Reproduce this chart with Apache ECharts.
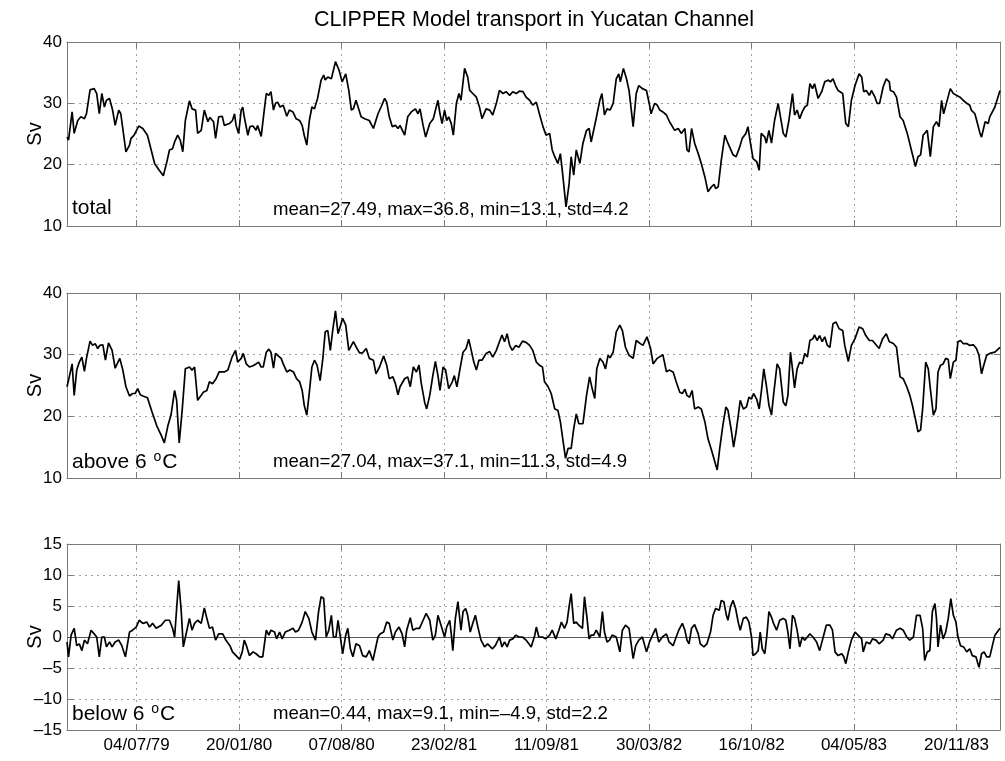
<!DOCTYPE html>
<html>
<head>
<meta charset="utf-8">
<script src="https://cdn.jsdelivr.net/npm/echarts@6/dist/echarts.min.js"></script>
<style>
html, body { margin: 0; padding: 0; background: #fff; }
#chart { width: 1005px; height: 761px; }
</style>
</head>
<body>
<div id="chart"></div>
<script>
// Time axis is counted in days from 04/07/79; ticks every 200 days.
const tickDays = [0, 200, 400, 600, 800, 1000, 1200, 1400, 1600];
const tickLabels = ['04/07/79', '20/01/80', '07/08/80', '23/02/81', '11/09/81',
                    '30/03/82', '16/10/82', '04/05/83', '20/11/83'];
const dayRange = [-136, 1685];

// Transport (Sv): [day, value]
const totalSv = [[-136,24.5],[-133,24.0],[-126,28.6],[-122,25.1],[-115,27.2],[-109,27.8],[-102,27.5],[-98,28.3],[-91,32.2],[-83,32.4],[-78,31.6],[-73,28.3],[-68,31.6],[-63,29.4],[-59,30.5],[-53,30.8],[-47,28.9],[-42,26.4],[-35,28.9],[-31,28.3],[-21,22.1],[-14,23.2],[-11,24.3],[-5,24.8],[4,26.3],[12,25.9],[21,24.8],[35,20.2],[44,19.1],[52,18.2],[59,20.5],[64,22.4],[70,22.6],[74,23.7],[80,24.8],[85,24.0],[90,22.1],[95,27.2],[103,30.4],[108,29.1],[115,28.9],[119,25.1],[126,25.6],[132,28.9],[139,27.0],[143,27.7],[150,27.0],[154,24.3],[160,27.8],[167,27.9],[171,26.4],[181,26.7],[187,27.2],[191,28.3],[194,26.4],[199,25.1],[204,28.9],[207,29.4],[210,27.8],[217,24.8],[221,26.2],[227,26.3],[233,25.6],[236,26.4],[243,24.6],[249,28.9],[253,31.6],[258,31.3],[262,31.9],[267,28.9],[271,30.0],[275,30.2],[280,29.4],[286,29.7],[293,27.9],[298,28.9],[305,28.6],[311,27.5],[318,27.2],[323,26.4],[327,24.8],[332,23.2],[337,27.2],[342,29.4],[347,29.1],[353,30.8],[360,33.8],[365,34.6],[368,33.8],[373,34.3],[380,34.0],[388,36.8],[395,35.4],[401,33.5],[408,34.8],[414,32.1],[419,28.9],[423,29.1],[428,30.5],[434,28.9],[438,27.8],[445,27.5],[454,27.2],[462,25.9],[471,28.3],[477,29.4],[484,30.8],[488,30.2],[493,27.8],[499,26.2],[505,26.4],[510,25.9],[514,26.4],[523,24.8],[529,27.8],[536,28.6],[544,29.1],[549,28.3],[553,29.1],[559,26.4],[564,24.5],[572,26.7],[579,27.5],[588,30.5],[592,28.3],[596,26.7],[601,28.9],[605,27.2],[609,27.8],[614,26.7],[618,24.8],[624,30.0],[629,31.6],[633,30.5],[640,35.7],[646,34.3],[650,32.1],[656,31.6],[663,31.0],[669,29.4],[674,27.5],[682,29.1],[689,28.9],[695,28.1],[702,30.0],[708,32.1],[715,31.6],[721,31.9],[728,31.3],[734,31.9],[741,31.6],[747,32.0],[754,31.9],[760,31.0],[767,30.5],[773,29.7],[780,30.2],[786,28.3],[793,26.2],[799,24.8],[806,25.1],[811,22.4],[816,21.3],[822,20.2],[827,21.8],[832,18.0],[838,13.1],[844,16.9],[848,21.3],[853,18.3],[858,22.4],[865,20.2],[871,23.5],[878,25.6],[883,25.9],[887,23.7],[896,27.2],[904,30.5],[908,31.6],[913,28.1],[918,29.1],[924,28.9],[930,30.0],[936,34.0],[941,34.8],[944,33.5],[950,35.7],[956,34.0],[961,32.1],[969,26.2],[975,31.6],[980,32.9],[987,32.4],[995,32.1],[1001,29.7],[1004,28.3],[1011,30.0],[1016,29.7],[1021,28.9],[1027,28.6],[1034,28.1],[1040,27.0],[1050,25.6],[1057,25.9],[1063,25.1],[1070,25.9],[1074,22.4],[1078,22.1],[1083,25.9],[1089,23.5],[1096,21.8],[1102,20.2],[1109,18.0],[1115,15.6],[1122,16.4],[1127,16.8],[1130,16.1],[1135,16.4],[1141,20.7],[1148,24.8],[1154,23.5],[1164,21.6],[1170,21.3],[1177,22.9],[1182,24.3],[1189,25.1],[1193,26.2],[1197,24.0],[1203,21.0],[1210,20.5],[1215,19.1],[1219,25.1],[1226,24.5],[1229,23.5],[1234,25.6],[1239,23.5],[1245,27.2],[1252,30.0],[1255,29.7],[1262,25.1],[1267,24.5],[1273,27.2],[1280,31.6],[1284,28.1],[1289,28.9],[1294,27.5],[1299,28.6],[1304,29.4],[1309,29.7],[1314,33.2],[1319,32.4],[1323,33.2],[1330,30.8],[1337,31.9],[1343,33.5],[1350,33.8],[1354,33.5],[1359,34.0],[1365,32.7],[1369,32.1],[1378,31.6],[1384,26.7],[1389,26.2],[1395,30.5],[1402,32.9],[1410,34.8],[1415,34.3],[1419,31.9],[1424,32.1],[1430,31.3],[1434,32.1],[1441,31.0],[1445,30.0],[1450,30.0],[1457,32.7],[1463,34.0],[1469,33.5],[1471,32.1],[1477,31.9],[1483,31.0],[1490,27.8],[1496,27.2],[1504,25.1],[1512,22.4],[1520,19.7],[1525,21.3],[1530,21.6],[1535,24.8],[1543,25.6],[1549,21.3],[1555,26.2],[1561,27.0],[1566,26.2],[1571,30.5],[1575,28.3],[1581,30.2],[1588,32.4],[1594,31.6],[1600,31.3],[1607,31.0],[1613,30.5],[1620,30.0],[1626,29.7],[1629,28.9],[1636,28.3],[1641,26.7],[1646,25.1],[1649,24.5],[1656,27.0],[1662,26.7],[1665,27.8],[1675,29.4],[1685,32.1]];

const above6Sv = [[-136,24.8],[-131,26.6],[-126,28.5],[-122,23.4],[-117,27.5],[-112,28.8],[-107,29.6],[-102,27.3],[-98,29.4],[-91,32.2],[-86,31.5],[-81,31.8],[-76,31.0],[-72,31.5],[-66,31.6],[-61,29.1],[-55,31.9],[-48,30.7],[-42,27.8],[-33,29.4],[-27,27.5],[-21,24.8],[-14,23.3],[-8,23.7],[-3,23.7],[2,24.5],[7,23.5],[12,23.3],[21,23.0],[30,20.7],[39,18.5],[48,16.9],[54,15.7],[61,18.5],[67,20.2],[74,24.2],[78,22.6],[83,15.7],[89,21.2],[95,27.7],[103,28.0],[108,27.5],[113,28.0],[119,22.6],[126,23.4],[130,23.9],[137,24.2],[142,25.6],[148,25.3],[155,26.1],[161,27.2],[171,27.2],[178,27.5],[186,29.6],[193,30.7],[197,28.8],[204,29.4],[208,30.2],[214,28.5],[220,28.0],[227,28.2],[233,28.5],[238,28.8],[243,28.0],[247,28.0],[253,30.4],[258,30.9],[262,30.4],[267,27.8],[271,30.2],[275,29.9],[282,29.4],[286,28.5],[293,27.2],[299,27.5],[306,27.2],[312,26.1],[318,25.6],[323,24.2],[327,21.8],[332,20.2],[337,23.9],[342,28.0],[347,29.1],[352,28.3],[358,25.8],[363,29.1],[368,33.7],[373,33.9],[378,30.7],[383,34.2],[388,37.1],[393,33.4],[397,34.5],[402,35.9],[408,34.8],[414,30.7],[423,32.1],[430,31.0],[435,30.3],[441,30.3],[448,31.0],[454,29.4],[462,29.1],[467,26.9],[474,28.0],[482,29.8],[488,28.3],[493,26.1],[500,26.4],[505,25.3],[510,23.5],[514,24.8],[523,26.1],[529,26.4],[534,24.8],[540,28.0],[546,27.2],[551,28.3],[555,25.6],[562,22.3],[566,21.2],[572,23.4],[578,26.6],[583,28.9],[588,26.6],[592,24.2],[598,28.0],[603,27.5],[609,24.5],[616,25.6],[620,26.6],[625,24.8],[630,27.2],[637,30.4],[643,31.0],[648,32.5],[653,30.7],[658,28.8],[663,27.5],[668,29.1],[674,29.1],[682,30.2],[689,30.5],[695,29.6],[702,30.7],[708,32.1],[713,33.2],[718,32.1],[723,33.4],[728,31.5],[733,30.7],[740,31.5],[746,31.2],[753,32.2],[760,32.0],[767,31.5],[773,30.7],[780,28.8],[786,28.3],[792,28.0],[796,25.6],[803,24.8],[809,23.7],[816,21.2],[822,21.0],[827,19.1],[832,16.1],[837,13.2],[842,14.8],[848,14.8],[853,18.0],[858,20.4],[863,18.8],[871,18.8],[878,23.4],[884,26.4],[889,24.5],[894,22.9],[898,27.7],[904,29.4],[910,28.8],[915,27.7],[920,29.9],[924,29.5],[930,30.4],[936,33.7],[943,34.8],[948,33.9],[954,31.2],[961,29.9],[969,29.4],[975,32.3],[983,31.8],[988,31.5],[996,32.9],[1003,31.0],[1008,28.5],[1016,29.4],[1027,30.0],[1034,27.2],[1039,27.5],[1047,27.2],[1053,25.6],[1060,23.9],[1065,23.7],[1070,24.4],[1074,23.4],[1079,23.1],[1084,24.2],[1089,21.2],[1096,21.5],[1102,21.2],[1109,19.1],[1115,16.4],[1122,14.5],[1133,11.3],[1138,14.8],[1144,18.5],[1150,21.5],[1154,21.0],[1161,17.5],[1165,15.0],[1170,17.5],[1178,22.6],[1184,21.2],[1190,21.5],[1195,23.1],[1200,22.8],[1204,23.7],[1210,22.8],[1215,21.2],[1219,23.9],[1224,27.7],[1229,25.0],[1234,21.8],[1239,20.2],[1243,23.4],[1250,28.5],[1255,27.7],[1262,22.3],[1267,21.7],[1271,23.4],[1276,30.4],[1280,27.7],[1284,24.6],[1289,27.7],[1294,28.8],[1299,28.5],[1304,30.2],[1309,29.6],[1314,32.3],[1320,32.6],[1323,33.2],[1328,32.3],[1333,33.1],[1338,32.1],[1343,32.9],[1348,31.5],[1353,31.2],[1359,35.0],[1365,35.3],[1371,34.2],[1378,33.9],[1382,31.5],[1389,28.9],[1395,31.5],[1402,32.6],[1410,34.5],[1417,34.2],[1423,33.1],[1430,32.3],[1436,32.3],[1443,31.6],[1449,31.0],[1456,32.6],[1463,33.4],[1469,32.1],[1477,31.8],[1483,31.2],[1490,26.4],[1496,26.1],[1503,24.8],[1509,23.4],[1514,21.8],[1519,19.9],[1525,17.5],[1530,17.8],[1534,21.2],[1540,28.8],[1545,27.7],[1549,24.5],[1555,20.2],[1560,21.2],[1564,27.2],[1569,28.3],[1574,28.5],[1579,29.4],[1584,29.2],[1588,26.1],[1594,28.8],[1599,29.1],[1603,32.1],[1608,32.3],[1613,31.8],[1620,31.8],[1626,31.5],[1633,31.6],[1639,31.0],[1644,29.9],[1649,26.9],[1654,28.5],[1659,29.9],[1665,30.2],[1675,30.4],[1685,31.2]];

const below6Sv = [[-136,-0.8],[-133,-3.2],[-128,0.3],[-122,1.4],[-117,-1.4],[-112,-1.1],[-107,-2.2],[-102,-0.5],[-96,-1.1],[-89,1.1],[-83,0.5],[-78,0.0],[-73,-3.2],[-68,0.0],[-63,0.0],[-59,-1.6],[-53,-0.8],[-48,-1.6],[-42,-0.8],[-35,-0.5],[-29,-1.4],[-22,-3.2],[-14,0.8],[-8,1.1],[-1,1.6],[5,2.7],[12,2.2],[20,2.4],[25,1.6],[31,2.2],[38,1.4],[48,1.9],[56,2.7],[64,2.7],[70,1.4],[74,0.0],[78,4.6],[82,9.1],[87,4.1],[91,-1.6],[96,0.3],[103,3.0],[108,1.1],[113,2.2],[119,2.7],[126,2.2],[132,4.7],[137,3.0],[142,1.4],[148,1.6],[154,-0.5],[160,0.5],[168,0.5],[174,-0.5],[182,-1.4],[187,-2.4],[194,-3.0],[201,-3.6],[206,-2.4],[210,-0.5],[215,-1.6],[220,-3.0],[227,-2.4],[233,-2.7],[240,-3.2],[246,-3.2],[253,1.1],[258,0.3],[262,1.1],[269,0.8],[273,-0.3],[279,0.8],[284,-0.3],[290,0.8],[298,1.1],[305,1.4],[310,0.8],[316,1.1],[323,2.4],[329,4.1],[336,3.0],[342,0.8],[349,-0.5],[355,4.1],[360,6.5],[365,6.2],[370,0.0],[375,1.1],[380,3.5],[384,0.0],[389,0.0],[393,2.7],[397,0.3],[402,-2.7],[408,0.3],[412,1.4],[417,-1.9],[422,-3.2],[428,-1.1],[435,-1.4],[441,-3.0],[448,-3.2],[454,-2.2],[461,-3.8],[466,-1.9],[471,0.0],[475,0.5],[482,0.8],[488,2.4],[493,2.2],[500,-0.5],[505,0.8],[512,1.6],[518,0.5],[523,-1.6],[527,1.1],[534,3.1],[539,1.1],[546,1.4],[552,1.4],[559,2.7],[565,3.8],[572,2.7],[578,-0.5],[583,0.3],[588,3.5],[594,1.9],[601,0.0],[605,1.6],[611,2.7],[614,0.5],[617,-2.2],[622,3.0],[627,5.7],[630,5.9],[633,1.1],[637,4.1],[642,4.6],[646,3.5],[651,0.8],[656,2.2],[661,3.5],[666,1.6],[672,-0.5],[679,-1.6],[685,-1.1],[694,-1.9],[700,-1.4],[708,0.0],[713,-1.6],[718,-0.8],[723,-1.6],[728,-0.5],[734,-0.3],[740,0.3],[746,0.0],[753,0.0],[760,-0.5],[770,-1.6],[777,0.3],[780,1.6],[785,0.0],[792,0.0],[798,-0.3],[806,0.3],[811,1.1],[818,-0.3],[824,1.1],[829,2.4],[835,1.4],[840,2.4],[844,4.9],[848,7.0],[853,2.2],[858,2.4],[863,1.9],[870,1.4],[874,6.5],[879,3.0],[883,-0.3],[887,0.3],[892,0.3],[897,1.1],[904,0.0],[909,4.1],[913,0.8],[918,-0.8],[923,-0.5],[928,0.3],[936,0.0],[943,-2.4],[948,1.1],[954,1.9],[961,1.4],[969,-3.5],[974,-1.4],[980,-0.5],[987,0.0],[995,-2.4],[1001,-0.8],[1008,0.5],[1013,1.4],[1019,-0.8],[1026,0.0],[1034,0.5],[1039,-0.8],[1047,-1.4],[1053,0.0],[1058,1.1],[1065,2.2],[1070,1.1],[1074,-0.5],[1078,-1.1],[1083,1.4],[1089,2.0],[1096,0.5],[1100,-1.1],[1107,-1.6],[1113,-1.1],[1120,0.8],[1125,3.5],[1130,4.6],[1137,4.3],[1141,5.9],[1146,5.7],[1151,3.5],[1154,2.7],[1159,4.9],[1164,5.9],[1169,4.6],[1174,2.4],[1178,1.1],[1184,3.0],[1190,3.2],[1195,2.4],[1200,0.0],[1203,-3.0],[1208,-2.7],[1213,-2.2],[1217,0.8],[1221,-1.9],[1226,-2.7],[1230,0.3],[1234,4.1],[1239,3.2],[1243,2.2],[1249,1.1],[1255,2.7],[1262,3.0],[1267,2.7],[1271,0.8],[1275,-1.9],[1280,3.5],[1284,3.0],[1289,1.1],[1294,-1.6],[1299,0.0],[1304,-0.5],[1309,0.0],[1314,0.5],[1320,0.0],[1327,-0.8],[1333,-2.2],[1340,0.0],[1346,1.9],[1353,1.9],[1358,1.1],[1363,-2.4],[1369,-3.0],[1376,-2.7],[1380,-3.2],[1384,-4.3],[1389,-2.4],[1395,-0.5],[1402,0.8],[1408,0.3],[1415,-0.3],[1418,-2.4],[1424,-0.8],[1431,-1.1],[1436,-0.3],[1443,-0.5],[1449,-1.1],[1457,-0.5],[1462,0.5],[1470,0.3],[1475,-0.3],[1483,1.1],[1490,1.4],[1496,1.1],[1503,0.0],[1509,-0.5],[1516,0.0],[1522,3.5],[1529,3.5],[1534,1.4],[1538,-3.8],[1543,-2.4],[1548,-2.2],[1553,4.1],[1558,5.4],[1561,3.0],[1564,-1.6],[1569,1.9],[1574,-0.3],[1579,0.8],[1584,3.0],[1589,6.2],[1594,3.5],[1599,2.4],[1603,0.0],[1608,-1.4],[1614,-1.6],[1620,-2.4],[1626,-1.9],[1631,-3.0],[1638,-3.2],[1644,-4.9],[1649,-2.7],[1654,-2.4],[1659,-3.2],[1665,-3.2],[1675,0.3],[1685,1.4]];

const panelSeries = [totalSv, above6Sv, below6Sv];
const panelNames = ['total', 'above 6 {sup|o}C', 'below 6 {sup|o}C'];
const panelStats = [
  'mean=27.49, max=36.8, min=13.1, std=4.2',
  'mean=27.04, max=37.1, min=11.3, std=4.9',
  'mean=0.44, max=9.1, min=\u20134.9, std=2.2'
];
const yTicks = [[10, 40, 10], [10, 40, 10], [-15, 15, 5]];

const FONT = '"Liberation Sans", Arial, Helvetica, sans-serif';
const AXIS_GRAY = '#7a7a7a';
const GRID_DOT = { color: '#a0a0a0', width: 1, type: [2, 4] };

const layout = [
  { top: 42, height: 184 },
  { top: 293, height: 185 },
  { top: 544, height: 186 }
];
const plotLeft = 67, plotRight = 5;

const grid = [], xAxis = [], yAxis = [], series = [], graphic = [];

layout.forEach((g, i) => {
  grid.push({ left: plotLeft, right: plotRight, top: g.top, height: g.height, containLabel: false });

  const tickStyle = { inside: true, length: 6, lineStyle: { color: AXIS_GRAY, width: 1 } };
  const lineStyle = { show: true, onZero: false, lineStyle: { color: AXIS_GRAY, width: 1 } };

  // bottom time axis
  xAxis.push({
    type: 'value', gridIndex: i, position: 'bottom',
    min: dayRange[0], max: dayRange[1],
    axisLine: lineStyle,
    axisTick: Object.assign({ customValues: tickDays }, tickStyle),
    axisLabel: {
      show: i === 2, customValues: tickDays, margin: 7,
      color: '#000', fontSize: 17, fontFamily: FONT,
      formatter: v => { const k = tickDays.indexOf(v); return k >= 0 ? tickLabels[k] : ''; }
    },
    splitLine: { show: true, lineStyle: GRID_DOT }
  });
  // top frame edge
  xAxis.push({
    type: 'value', gridIndex: i, position: 'top',
    min: dayRange[0], max: dayRange[1],
    axisLine: lineStyle,
    axisTick: Object.assign({ customValues: tickDays }, tickStyle),
    axisLabel: { show: false },
    splitLine: { show: false }
  });

  const [ymin, ymax, yint] = yTicks[i];
  yAxis.push({
    type: 'value', gridIndex: i, position: 'left',
    min: ymin, max: ymax, interval: yint,
    axisLine: lineStyle,
    axisTick: tickStyle,
    axisLabel: {
      color: '#000', fontSize: 17, fontFamily: FONT, margin: 5,
      formatter: v => String(v).replace('-', '\u2013')
    },
    splitLine: { show: true, lineStyle: GRID_DOT },
    name: 'Sv', nameLocation: 'middle', nameGap: 22, nameMoveOverlap: false,
    nameTextStyle: { color: '#000', fontSize: 20, fontFamily: FONT }
  });
  yAxis.push({
    type: 'value', gridIndex: i, position: 'right',
    min: ymin, max: ymax, interval: yint,
    axisLine: lineStyle,
    axisTick: tickStyle,
    axisLabel: { show: false },
    splitLine: { show: false }
  });

  const s = {
    type: 'line', xAxisIndex: 2 * i, yAxisIndex: 2 * i,
    data: panelSeries[i], showSymbol: false, symbol: 'none',
    lineStyle: { color: '#000', width: 1.7 },
    silent: true, animation: false, z: 5
  };
  if (yTicks[i][0] < 0) {
    s.markLine = {
      silent: true, symbol: ['none', 'none'], animation: false,
      label: { show: false },
      lineStyle: { color: '#555', type: 'solid', width: 1 },
      data: [{ yAxis: 0 }]
    };
  }
  series.push(s);

  const bottom = g.top + g.height;
  graphic.push({
    type: 'text', left: plotLeft + 5, top: bottom - 28, z: 10,
    style: {
      text: panelNames[i], fill: '#000',
      font: '21px ' + FONT,
      rich: {
        sup: { fontSize: 14, fontFamily: FONT, fill: '#000', padding: [0, 1, 11, 1], verticalAlign: 'bottom' }
      }
    }
  });
  graphic.push({
    type: 'text', left: 273, top: bottom - 26, z: 10,
    style: { text: panelStats[i], fill: '#000', font: '18.6px ' + FONT }
  });
});

graphic.push({
  type: 'text', x: 534, y: 20, z: 10,
  style: {
    text: 'CLIPPER Model transport in Yucatan Channel',
    fill: '#000', font: '21.5px ' + FONT, align: 'center', verticalAlign: 'middle'
  }
});

const chart = echarts.init(document.getElementById('chart'), null, { renderer: 'canvas' });
chart.setOption({
  animation: false,
  backgroundColor: '#fff',
  grid, xAxis, yAxis, series, graphic
});
</script>
</body>
</html>
